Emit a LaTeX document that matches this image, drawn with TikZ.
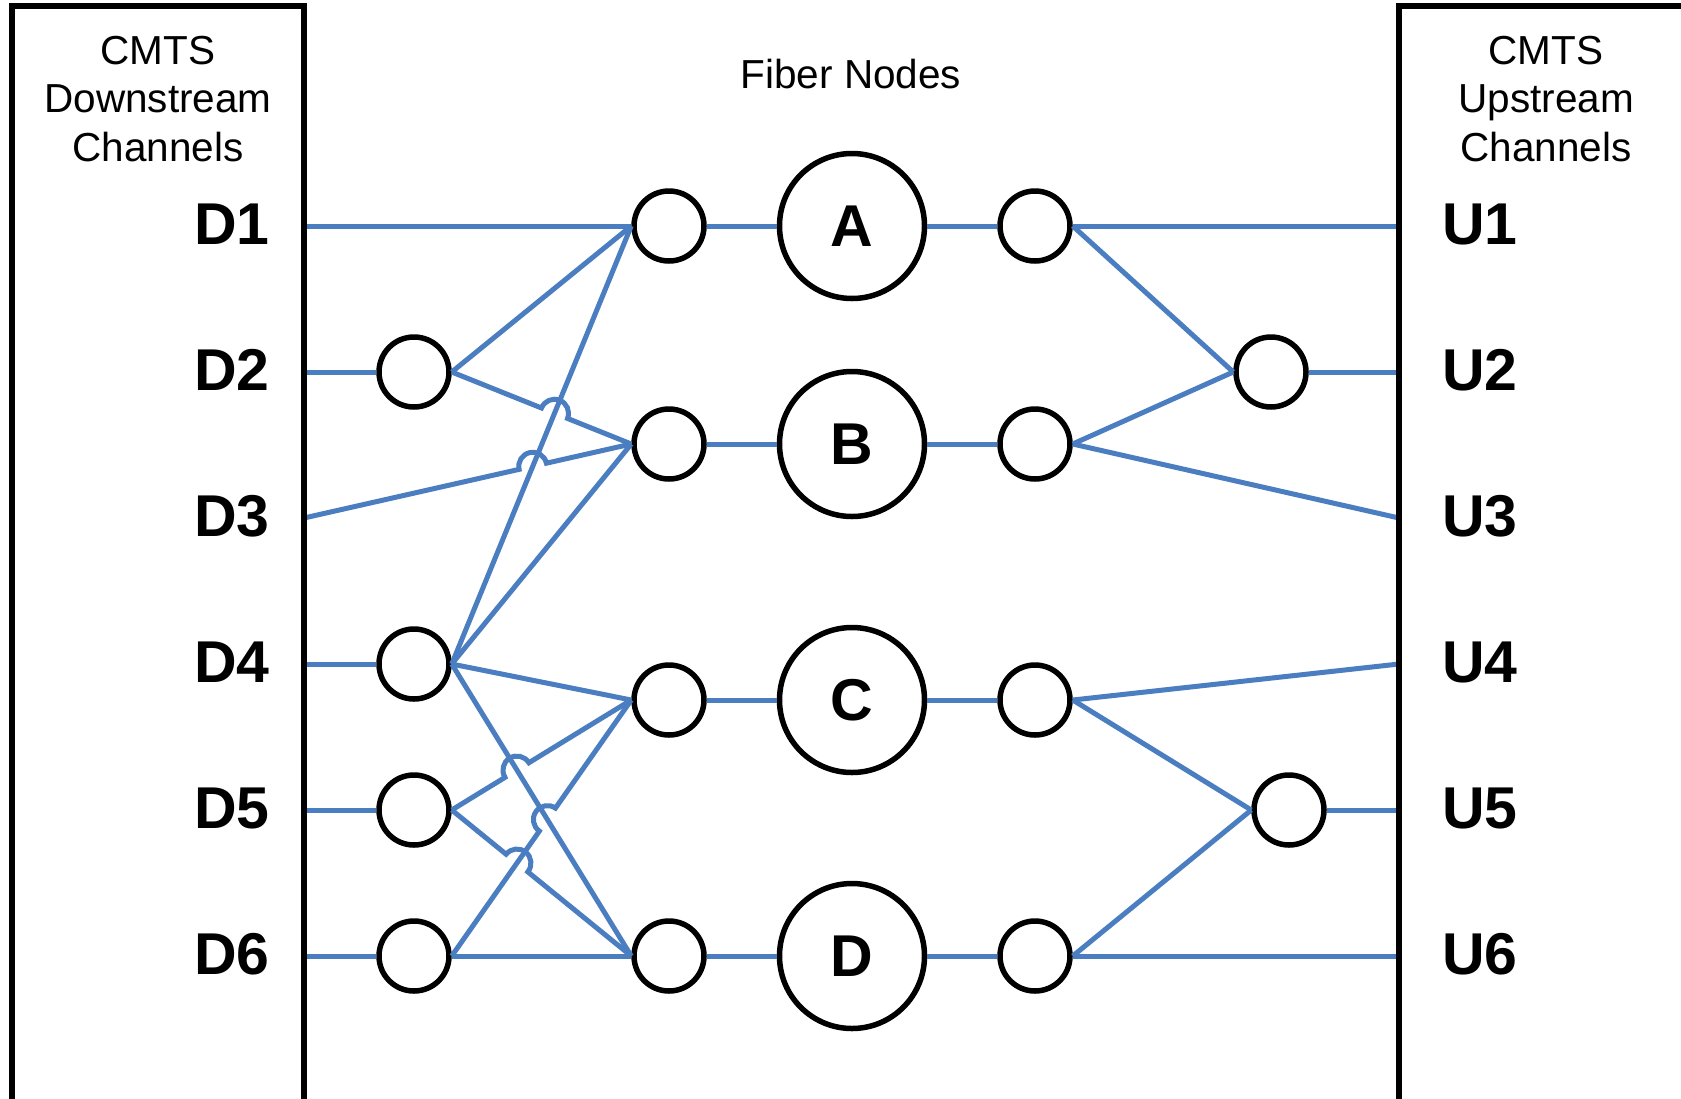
\documentclass[tikz,border=0pt]{standalone}
\usepackage{fontspec}
\setmainfont{Liberation Sans}
\usetikzlibrary{calc,intersections}
\definecolor{linkblue}{RGB}{74,126,193}
\newcommand\hopline[4]{%
  \path[name path=hA] (#1) -- (#2);
  \path[name path=hB] (#3) -- (#4);
  \path[name intersections={of=hA and hB, by=hX}];
  \draw[link] let \p1=($(#1)-(hX)$), \n1={atan2(\y1,\x1)} in
    (#1) -- ($(hX)!14pt!(#1)$) arc[start angle=\n1, delta angle=-180, radius=14pt] -- (#2);
}
\begin{document}
\begin{tikzpicture}[x=1pt,y=-1pt,
  link/.style={draw=linkblue, line width=5pt},
  port/.style={circle, draw=black, fill=white, line width=5.5pt, minimum size=70pt, inner sep=0pt},
  fnode/.style={circle, draw=black, fill=white, line width=5.5pt, minimum size=145pt, inner sep=0pt, font=\fontsize{59}{70}\selectfont\bfseries},
  chan/.style={font=\fontsize{59}{70}\selectfont\bfseries, inner sep=0pt},
  head/.style={font=\fontsize{40.5}{48.5}\selectfont, align=center, inner sep=0pt},
  frame/.style={draw=black, line width=5.5pt}]
\useasboundingbox (0,0) rectangle (1681,1098);
\clip (0,0) rectangle (1681,1098);

% box edge coordinates
\coordinate (d1) at (304,226);
\coordinate (d2) at (304,372);
\coordinate (d3) at (304,518);
\coordinate (d4) at (304,664);
\coordinate (d5) at (304,810);
\coordinate (d6) at (304,956);
\coordinate (u1) at (1399,226);
\coordinate (u2) at (1399,372);
\coordinate (u3) at (1399,518);
\coordinate (u4) at (1399,664);
\coordinate (u5) at (1399,810);
\coordinate (u6) at (1399,956);

% ports and fiber nodes
\node[port] (p2) at (414,372) {};
\node[port] (p4) at (414,664) {};
\node[port] (p5) at (414,810) {};
\node[port] (p6) at (414,956) {};
\node[port] (al) at (669,226) {};
\node[port] (bl) at (669,444) {};
\node[port] (cl) at (669,700) {};
\node[port] (dl) at (669,956) {};
\node[fnode] (A) at (852,226) {A};
\node[fnode] (B) at (852,444) {B};
\node[fnode] (C) at (852,700) {C};
\node[fnode] (D) at (852,956) {D};
\node[port] (ar) at (1035,226) {};
\node[port] (br) at (1035,444) {};
\node[port] (cr) at (1035,700) {};
\node[port] (dr) at (1035,956) {};
\node[port] (q2) at (1271,372) {};
\node[port] (q5) at (1289,810) {};

% left links
\draw[link] (d1) -- (al.west);
\draw[link] (d2) -- (p2.west);
\draw[link] (p2.east) -- (al.west);
\draw[link] (d4) -- (p4.west);
\draw[link] (p4.east) -- (al.west);
\draw[link] (p4.east) -- (bl.west);
\draw[link] (p4.east) -- (cl.west);
\draw[link] (p4.east) -- (dl.west);
\draw[link] (d5) -- (p5.west);
\draw[link] (d6) -- (p6.west);
\draw[link] (p6.east) -- (dl.west);
\hopline{p2.east}{bl.west}{p4.east}{al.west}
\hopline{d3}{bl.west}{p4.east}{al.west}
\hopline{p5.east}{cl.west}{p4.east}{dl.west}
\hopline{p6.east}{cl.west}{p4.east}{dl.west}
\hopline{p5.east}{dl.west}{p6.east}{cl.west}

% through links
\draw[link] (al.east) -- (A.west);
\draw[link] (bl.east) -- (B.west);
\draw[link] (cl.east) -- (C.west);
\draw[link] (dl.east) -- (D.west);
\draw[link] (A.east) -- (ar.west);
\draw[link] (B.east) -- (br.west);
\draw[link] (C.east) -- (cr.west);
\draw[link] (D.east) -- (dr.west);

% right links
\draw[link] (ar.east) -- (u1);
\draw[link] (ar.east) -- (q2.west);
\draw[link] (q2.east) -- (u2);
\draw[link] (br.east) -- (q2.west);
\draw[link] (br.east) -- (u3);
\draw[link] (cr.east) -- (u4);
\draw[link] (cr.east) -- (q5.west);
\draw[link] (q5.east) -- (u5);
\draw[link] (dr.east) -- (q5.west);
\draw[link] (dr.east) -- (u6);

% frames
\draw[frame] (12,1110) -- (12,6) -- (304,6) -- (304,1110);
\draw[frame] (1399,1110) -- (1399,6) -- (1700,6);

% labels
\node[head, anchor=north] (hl) at (158,36) {CMTS\\Downstream\\Channels};
\node[head, anchor=north] (hr) at (1546,36) {CMTS\\Upstream\\Channels};
\node[head] (hf) at (851,74) {Fiber Nodes};
\node[chan] (ld1) at (232,224) {D1};
\node[chan] (ld2) at (232,370) {D2};
\node[chan] (ld3) at (232,516) {D3};
\node[chan] (ld4) at (232,662) {D4};
\node[chan] (ld5) at (232,808) {D5};
\node[chan] (ld6) at (232,954) {D6};
\node[chan] (lu1) at (1480,224) {U1};
\node[chan] (lu2) at (1480,370) {U2};
\node[chan] (lu3) at (1480,516) {U3};
\node[chan] (lu4) at (1480,662) {U4};
\node[chan] (lu5) at (1480,808) {U5};
\node[chan] (lu6) at (1480,954) {U6};
\end{tikzpicture}
\end{document}
